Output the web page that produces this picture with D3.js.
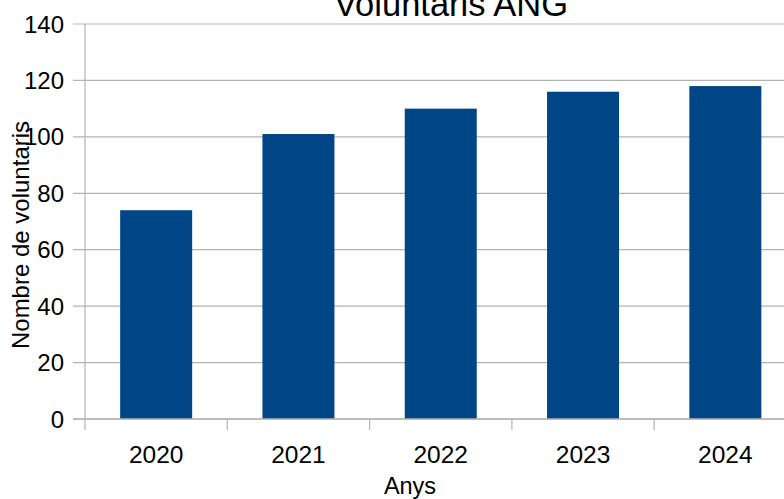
<!DOCTYPE html>
<html><head><meta charset="utf-8">
<script src="https://cdn.jsdelivr.net/npm/d3@7"></script>
<style>html,body{margin:0;padding:0;background:#fff;overflow:hidden}</style>
</head><body>
<svg id="c" width="784" height="499"></svg>
<script>
const categories = ["2020","2021","2022","2023","2024"];
const values = [74, 101, 110, 116, 118];
const yTicks = [0,20,40,60,80,100,120,140];
const title = "Voluntaris ANG";
const xTitle = "Anys";
const yTitle = "Nombre de voluntaris";

(function(){
const svg = d3.select("#c");
const font = "'Liberation Sans', Arial, sans-serif";
const pLeft = 85, pRight = 796.5, pTop = 24, pBottom = 419;
const grid = "#b3b3b3";

const x = d3.scaleBand().domain(categories).range([pLeft, pRight]).paddingInner(0.494).paddingOuter(0.247);
const y = d3.scaleLinear().domain([0, 140]).range([pBottom, pTop]);
const step = x.step();
const off = x.paddingOuter() * step;

svg.append("g").selectAll("line").data(yTicks).join("line")
  .attr("x1", pLeft - 12).attr("x2", 784)
  .attr("y1", d => y(d)).attr("y2", d => y(d))
  .attr("stroke", grid).attr("stroke-width", 1.2);

svg.append("g").selectAll("text").data(yTicks).join("text")
  .attr("x", 64).attr("y", d => y(d)).attr("dy", "0.36em")
  .attr("text-anchor", "end").attr("font-family", font).attr("font-size", 24)
  .attr("fill", "#000").text(d => d);

svg.append("g").selectAll("rect").data(values).join("rect")
  .attr("x", (d, i) => x(categories[i]))
  .attr("width", x.bandwidth())
  .attr("y", d => y(d))
  .attr("height", d => y(0) - y(d))
  .attr("fill", "#004586");

svg.append("line").attr("x1", pLeft).attr("x2", pLeft).attr("y1", pTop).attr("y2", pBottom + 11)
  .attr("stroke", grid).attr("stroke-width", 1.2);
svg.append("line").attr("x1", pLeft - 12).attr("x2", 784).attr("y1", pBottom).attr("y2", pBottom)
  .attr("stroke", grid).attr("stroke-width", 1.5);

svg.append("g").selectAll("line").data(categories.slice(1)).join("line")
  .attr("x1", d => x(d) - off).attr("x2", d => x(d) - off)
  .attr("y1", pBottom).attr("y2", pBottom + 11)
  .attr("stroke", grid).attr("stroke-width", 1.2);

svg.append("g").selectAll("text").data(categories).join("text")
  .attr("x", d => x(d) + x.bandwidth() / 2).attr("y", 463)
  .attr("text-anchor", "middle").attr("font-family", font).attr("font-size", 24.5)
  .attr("fill", "#000").text(d => d);

svg.append("text").attr("x", 451).attr("y", 16).attr("text-anchor", "middle")
  .attr("font-family", font).attr("font-size", 34.5).attr("fill", "#000").text(title);
svg.append("text").attr("x", 410).attr("y", 494).attr("text-anchor", "middle")
  .attr("font-family", font).attr("font-size", 23.5).attr("fill", "#000").text(xTitle);
svg.append("text").attr("transform", "translate(29,235) rotate(-90)").attr("text-anchor", "middle")
  .attr("font-family", font).attr("font-size", 24).attr("fill", "#000").text(yTitle);
})();
</script>
</body></html>
